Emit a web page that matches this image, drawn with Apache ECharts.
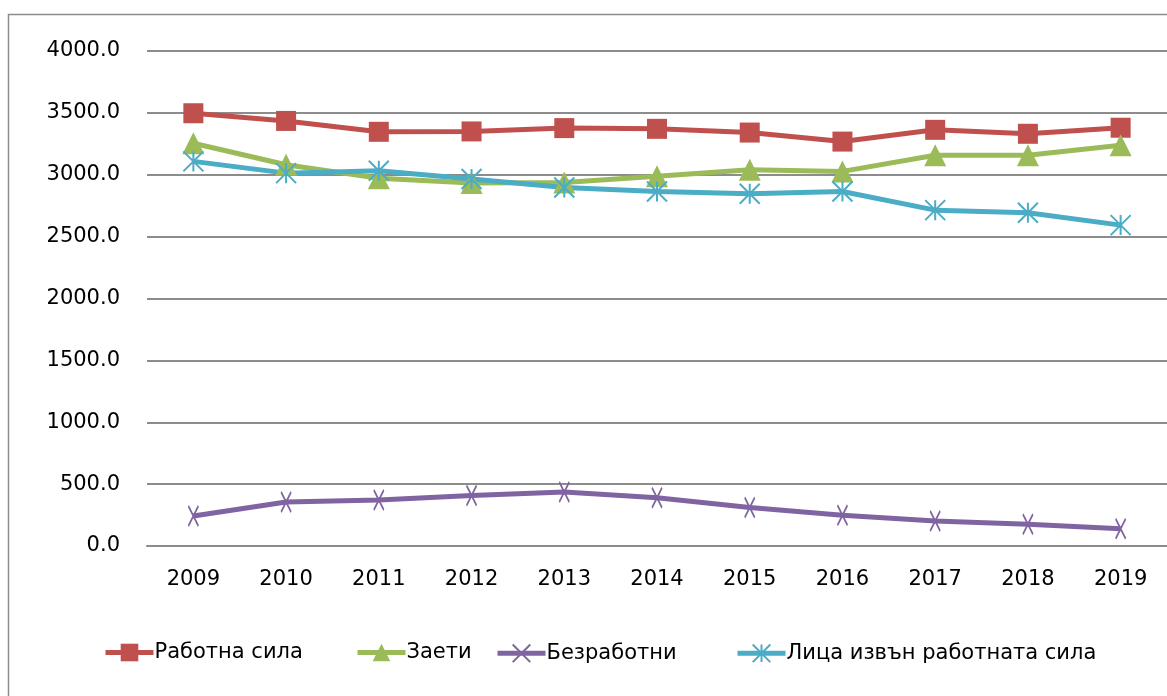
<!DOCTYPE html>
<html>
<head>
<meta charset="utf-8">
<script src="https://cdn.jsdelivr.net/npm/echarts@6/dist/echarts.min.js"></script>
<style>
  html, body { margin: 0; padding: 0; background: #fff; }
  #chart { width: 1167px; height: 696px; }
</style>
</head>
<body>
<div id="chart"></div>
<script>
const years = ['2009', '2010', '2011', '2012', '2013', '2014', '2015', '2016', '2017', '2018', '2019'];
const labourForce = [3497, 3435, 3347, 3350, 3377, 3371, 3341, 3268, 3363, 3331, 3380];
const employed = [3255, 3081, 2972, 2933, 2938, 2987, 3040, 3027, 3157, 3157, 3238];
const unemployed = [242, 355, 371, 409, 436, 390, 311, 249, 202, 175, 140];
const outsideLabour = [3108, 3013, 3032, 2965, 2897, 2865, 2846, 2865, 2714, 2693, 2593];
const names = ['Работна сила', 'Заети', 'Безработни', 'Лица извън работната сила'];
const colors = ['#C0504D', '#9BBB59', '#8064A2', '#4BACC6'];

const font = '"DejaVu Sans", sans-serif';
const xSymbol = 'path://M0,0L10,20M10,0L0,20';
const starSymbol = 'path://M0,0L20,20M20,0L0,20M10,0L10,20';

const chart = echarts.init(document.getElementById('chart'));

// one legend per series so each item sits where it does in the original
const legendLeft = [103, 355, 495, 735];
const legends = names.map((n, i) => ({
  data: [n],
  left: legendLeft[i],
  top: 642,
  padding: 0,
  itemWidth: 48,
  itemHeight: 22,
  lineStyle: { width: 5 },
  textStyle: { fontFamily: font, fontSize: 21, color: '#000', padding: [0, 0, 0, -4] }
}));

const option = {
  animation: false,
  color: colors,
  graphic: [{
    type: 'rect',
    shape: { x: 8.5, y: 14.5, width: 1200, height: 720 },
    style: { fill: 'none', stroke: '#8c8c8c', lineWidth: 1.5 },
    silent: true
  }],
  legend: legends,
  grid: { left: 147, top: 51, width: 1021, bottom: 150 },
  xAxis: {
    type: 'category',
    data: years,
    boundaryGap: true,
    axisLine: { lineStyle: { color: '#8c8c8c', width: 2 } },
    axisTick: { show: false },
    axisLabel: { fontFamily: font, fontSize: 21, color: '#000', margin: 23 }
  },
  yAxis: {
    type: 'value',
    min: 0,
    max: 4000,
    interval: 500,
    axisLine: { show: false },
    axisTick: { show: false },
    splitLine: { lineStyle: { color: '#8c8c8c', width: 2 } },
    axisLabel: {
      fontFamily: font, fontSize: 21, color: '#000', margin: 27,
      formatter: v => v.toFixed(1)
    }
  },
  series: [
    {
      name: names[0], type: 'line', data: labourForce,
      symbol: 'rect', symbolSize: 20,
      lineStyle: { width: 5, color: colors[0] },
      itemStyle: { color: colors[0] }
    },
    {
      name: names[1], type: 'line', data: employed,
      symbol: 'triangle', symbolSize: 22,
      lineStyle: { width: 5, color: colors[1] },
      itemStyle: { color: colors[1] }
    },
    {
      name: names[2], type: 'line', data: unemployed,
      symbol: xSymbol, symbolSize: [10, 20],
      lineStyle: { width: 5, color: colors[2] },
      itemStyle: { color: 'none', borderColor: colors[2], borderWidth: 2 }
    },
    {
      name: names[3], type: 'line', data: outsideLabour,
      symbol: starSymbol, symbolSize: 20,
      lineStyle: { width: 5, color: colors[3] },
      itemStyle: { color: 'none', borderColor: colors[3], borderWidth: 2 }
    }
  ]
};

chart.setOption(option);
</script>
</body>
</html>
